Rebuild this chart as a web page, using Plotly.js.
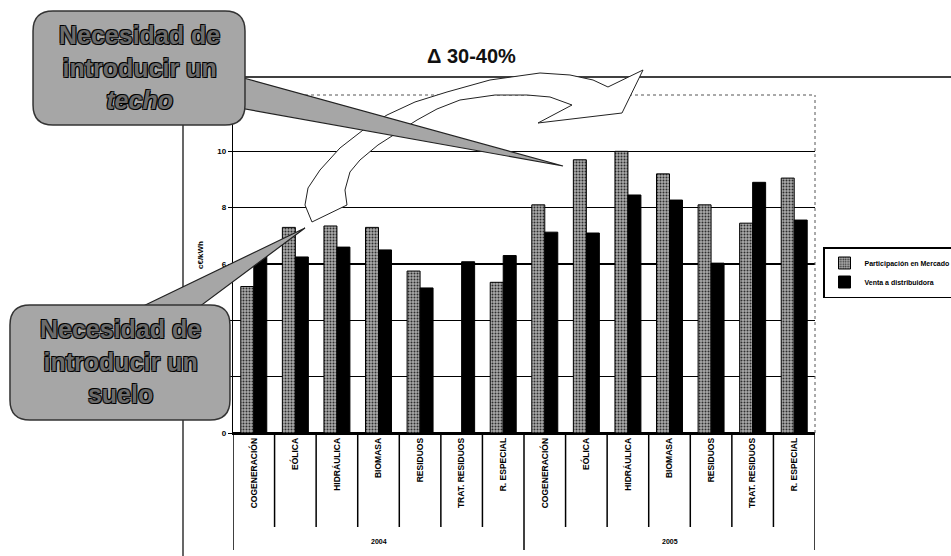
<!DOCTYPE html>
<html>
<head>
<meta charset="utf-8">
<script src="https://cdn.plot.ly/plotly-3.0.1.min.js"></script>
<style>html,body{margin:0;padding:0;background:#fff;}#chart{width:951px;height:556px;}</style>
</head>
<body>
<div id="chart"></div>
<script>
// ---- data ----
var years = ["2004", "2005"];
var categories = ["COGENERACIÓN", "EÓLICA", "HIDRÁULICA", "BIOMASA", "RESIDUOS", "TRAT. RESIDUOS", "R. ESPECIAL"];
var mercado2004 = [5.2, 7.3, 7.35, 7.3, 5.75, 0, 5.35];
var mercado2005 = [8.1, 9.7, 10.0, 9.2, 8.1, 7.45, 9.05];
var distrib2004 = [6.35, 6.25, 6.6, 6.5, 5.15, 6.08, 6.3];
var distrib2005 = [7.13, 7.1, 8.45, 8.27, 6.03, 8.9, 7.56];
var seriesNames = ["Participación en Mercado", "Venta a distribuidora"];
var yTicks = [0, 2, 4, 6, 8, 10];
var yUnit = "c€/kWh";

// ---- build category keys ----
var keys = [], labels = [];
years.forEach(function (y) { categories.forEach(function (c) { keys.push(y + " " + c); labels.push(c); }); });
var mercado = mercado2004.concat(mercado2005);
var distrib = distrib2004.concat(distrib2005);

// pixel -> paper helpers for decorations (plot area 233..815 x 95..433)
var L = 233, R = 815, T = 95, B = 433;
function X(px) { return (px - L) / (R - L); }
function Y(py) { return (B - py) / (B - T); }
function poly(pts) {
  return pts.map(function (p, i) { return (i ? "L" : "M") + X(p[0]).toFixed(4) + "," + Y(p[1]).toFixed(4); }).join(" ") + " Z";
}
function rrect(x0, y0, x1, y1, r) {
  function P(a, b) { return X(a).toFixed(4) + "," + Y(b).toFixed(4); }
  return "M" + P(x0 + r, y0) + " L" + P(x1 - r, y0) + " Q" + P(x1, y0) + " " + P(x1, y0 + r) +
    " L" + P(x1, y1 - r) + " Q" + P(x1, y1) + " " + P(x1 - r, y1) +
    " L" + P(x0 + r, y1) + " Q" + P(x0, y1) + " " + P(x0, y1 - r) +
    " L" + P(x0, y0 + r) + " Q" + P(x0, y0) + " " + P(x0 + r, y0) + " Z";
}

var traces = [
  {
    type: "bar", name: seriesNames[0], x: keys, y: mercado,
    marker: { color: "#9c9c9c", line: { color: "#000", width: 1 },
      pattern: { shape: ".", fgcolor: "#2e2e2e", bgcolor: "#aaaaaa", size: 3, solidity: 0.35 } }
  },
  {
    type: "bar", name: seriesNames[1], x: keys, y: distrib,
    marker: { color: "#000", line: { color: "#000", width: 1 } }
  }
];

var shapes = [];
// plot frame (dotted top/right)
shapes.push({ type: "line", xref: "paper", yref: "paper", x0: 0, x1: 1, y0: 1, y1: 1, line: { color: "#555", width: 1, dash: "dot" } });
shapes.push({ type: "line", xref: "paper", yref: "paper", x0: 1, x1: 1, y0: 0, y1: 1, line: { color: "#555", width: 1, dash: "dot" } });
// category dividers below the axis
for (var i = 0; i <= keys.length; i++) {
  var isGroup = (i % categories.length === 0);
  shapes.push({ type: "line", xref: "x", yref: "paper", x0: i - 0.5, x1: i - 0.5, y0: 0,
    y1: isGroup ? Y(550) : Y(527), line: { color: "#000", width: 1.5 } });
}
// outer chart frame
shapes.push({ type: "line", xref: "paper", yref: "paper", x0: X(183), x1: X(183), y0: Y(125), y1: Y(560), line: { color: "#000", width: 1.2 } });
shapes.push({ type: "line", xref: "paper", yref: "paper", x0: X(240), x1: X(960), y0: Y(77), y1: Y(77), line: { color: "#000", width: 1.5 } });

// curved block arrow
var arrowPts = [[305,205],[308,188],[320,170],[340,148],[367,127],[387,115],[415,102],[447,92],[490,80],[540,73],[570,75],[593,80],[608,87],
  [643,70],[622,113],[538,123],[572,105],
  [550,97],[527,95],[495,95],[460,100],[437,109],[417,120],[378,145],[360,160],[350,172],[345,190],[347,205],[312,222]];
shapes.push({ type: "path", xref: "paper", yref: "paper", layer: "above", path: poly(arrowPts),
  fillcolor: "#fff", line: { color: "#222", width: 1 } });

// callout "techo"
shapes.push({ type: "path", xref: "paper", yref: "paper", layer: "above", path: poly([[240,77],[563,166],[240,108]]),
  fillcolor: "#a6a6a6", line: { color: "#222", width: 1.2 } });
shapes.push({ type: "path", xref: "paper", yref: "paper", layer: "above", path: rrect(33, 11, 245, 125, 20),
  fillcolor: "#a6a6a6", line: { color: "#333", width: 1.5 } });
// callout "suelo"
shapes.push({ type: "path", xref: "paper", yref: "paper", layer: "above", path: poly([[135,310],[305,228],[195,310]]),
  fillcolor: "#a6a6a6", line: { color: "#222", width: 1.2 } });
shapes.push({ type: "path", xref: "paper", yref: "paper", layer: "above", path: rrect(10, 305, 230, 420, 20),
  fillcolor: "#a6a6a6", line: { color: "#333", width: 1.5 } });

var calloutFont = { family: "Liberation Sans, Arial, sans-serif", size: 25, color: "#6c6c6c", weight: 700,
  shadow: "1px 1px 0px #000, -1px -1px 0px #000, 1px -1px 0px #222, -1px 1px 0px #222" };

var annotations = [
  { xref: "paper", yref: "paper", x: X(139), y: Y(68), text: "<b>Necesidad de<br>introducir un<br><i>techo</i></b>",
    showarrow: false, font: calloutFont, align: "center", xanchor: "center", yanchor: "middle" },
  { xref: "paper", yref: "paper", x: X(120), y: Y(361), text: "<b>Necesidad de<br>introducir un<br>suelo</b>",
    showarrow: false, font: calloutFont, align: "center", xanchor: "center", yanchor: "middle" },
  { xref: "paper", yref: "paper", x: X(471), y: Y(56), text: "<b>Δ 30-40%</b>", showarrow: false,
    font: { family: "Liberation Sans, Arial, sans-serif", size: 20, color: "#111" }, xanchor: "center", yanchor: "middle" },
  { xref: "paper", yref: "paper", x: X(200), y: Y(255), text: "<b>" + yUnit + "</b>", textangle: -90, showarrow: false,
    font: { family: "Liberation Sans, Arial, sans-serif", size: 8, color: "#000" }, xanchor: "center", yanchor: "middle" }
];
years.forEach(function (yr, g) {
  var mid = g * categories.length + (categories.length - 1) / 2;
  annotations.push({ xref: "x", yref: "paper", x: mid, y: Y(541), text: "<b>" + yr + "</b>", showarrow: false,
    font: { family: "Liberation Sans, Arial, sans-serif", size: 7, color: "#000" }, xanchor: "center", yanchor: "middle" });
});

var layout = {
  width: 951, height: 556,
  margin: { l: L, r: 951 - R, t: T, b: 556 - B, pad: 0, autoexpand: false },
  paper_bgcolor: "#fff", plot_bgcolor: "#fff",
  font: { family: "Liberation Sans, Arial, sans-serif", color: "#000" },
  barmode: "group", bargap: 0.375, bargroupgap: 0,
  showlegend: true,
  legend: { x: X(823), y: Y(247), xanchor: "left", yanchor: "top", bordercolor: "#000", borderwidth: 1.5,
    bgcolor: "#fff", font: { size: 7, weight: 700 }, tracegroupgap: 0, itemwidth: 30 },
  xaxis: { type: "category", categoryorder: "array", categoryarray: keys, tickvals: keys, ticktext: labels,
    tickangle: -90, tickfont: { size: 8.5, weight: 700 }, showline: true, linecolor: "#000", linewidth: 1.5,
    showgrid: false, ticks: "", range: [-0.5, keys.length - 0.5], fixedrange: true, automargin: false },
  yaxis: { range: [0, 12], tickvals: yTicks, showgrid: true, gridcolor: "#000", gridwidth: 1.5,
    zeroline: true, zerolinecolor: "#000", zerolinewidth: 1.5, showline: true, linecolor: "#000", linewidth: 1.2,
    ticks: "outside", ticklen: 4, tickcolor: "#000", tickfont: { size: 8, weight: 700 }, fixedrange: true, automargin: false },
  shapes: shapes,
  annotations: annotations
};

Plotly.newPlot("chart", traces, layout, { displayModeBar: false, staticPlot: true });
</script>
</body>
</html>
